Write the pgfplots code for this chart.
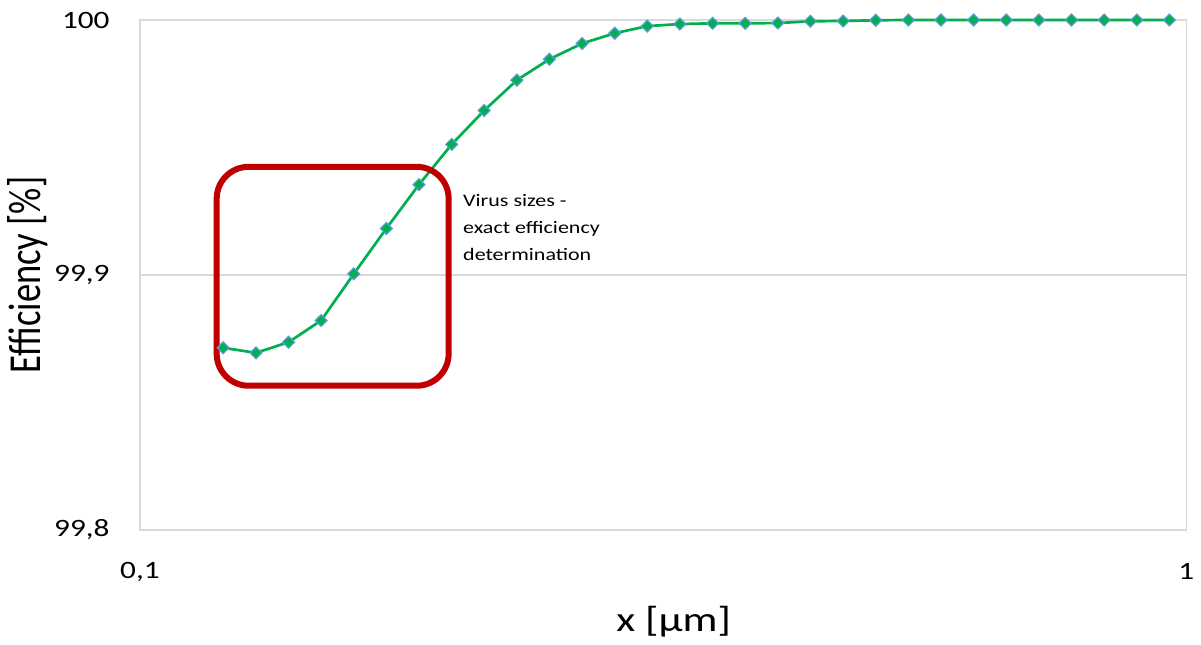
\documentclass[border=0pt]{standalone}
\usepackage{pgfplots}
\pgfplotsset{compat=1.18}
\usepackage{fontspec}
\usepackage{graphicx}
\setmainfont{Carlito}[FakeStretch=1.25]
\newfontfamily\plainfont{Carlito}
\definecolor{linegreen}{HTML}{00B050}
\definecolor{markblue}{HTML}{5B9BD5}
\definecolor{boxred}{HTML}{C00000}
\definecolor{gridgray}{HTML}{D9D9D9}

\pgfplotstableread{
x      eff
0.1201 99.8714
0.1291 99.8694
0.1387 99.8736
0.1490 99.8821
0.1601 99.9004
0.1720 99.9182
0.1848 99.9354
0.1986 99.9512
0.2133 99.9645
0.2292 99.9764
0.2462 99.9846
0.2646 99.9908
0.2843 99.9948
0.3054 99.9976
0.3281 99.9984
0.3526 99.9987
0.3788 99.9987
0.4070 99.9988
0.4372 99.9995
0.4699 99.9996
0.5048 99.9999
0.5424 100.0000
0.5828 100.0000
0.6262 100.0000
0.6728 100.0000
0.7229 100.0000
0.7767 100.0000
0.8345 100.0000
0.8966 100.0000
0.9634 100.0000
}\efficiency

\begin{document}
\begin{tikzpicture}
  \path (-70pt,-57.5pt) rectangle (530.5pt,265pt);
  \begin{axis}[
      at={(0,0)}, anchor=south west,
      scale only axis, width=523.5pt, height=255pt,
      xmode=log, xmin=0.1, xmax=1, ymin=99.8, ymax=100,
      xtick={0.1,1}, xticklabels={{0,1},1},
      ytick={99.8,99.9,100}, yticklabels={{99,8},{99,9},100},
      xminorticks=false, yminorticks=false,
      major tick length=0pt,
      axis line style={gridgray, line width=0.8pt},
      ymajorgrids, grid style={gridgray, line width=0.8pt},
      tick label style={font=\fontsize{12.5}{14}\selectfont, text=black},
      xticklabel style={anchor=center, yshift=-21pt},
      yticklabel style={anchor=east, inner sep=0pt, xshift=-15pt},
      xlabel={x [µm]},
      xlabel style={font=\fontsize{17.5}{20}\selectfont, at={(axis description cs:0.51,-0.18)}, anchor=center},
      ylabel={\scalebox{1}[1.25]{\plainfont\fontsize{18.3}{20}\selectfont Efficiency [\%]}},
      ylabel style={at={(axis description cs:-0.107,0.5)}, anchor=center},
      clip=false,
    ]
    \addplot[color=linegreen, line width=1.35pt, mark=square*,
      mark options={rotate=45, fill=linegreen, draw=markblue, line width=0.6pt, mark size=2.1pt}]
      table[x=x, y=eff] {\efficiency};
    \draw[boxred, line width=3pt, rounded corners=16pt]
      (axis cs:0.1184,99.9424) rectangle (axis cs:0.1973,99.8565);
    \node[anchor=west, align=left, inner sep=0pt,
      font=\fontsize{8.8}{13.5}\selectfont]
      at (axis cs:0.2035,99.9184) {Virus sizes -\\exact efficiency\\determination};
  \end{axis}
\end{tikzpicture}
\end{document}
